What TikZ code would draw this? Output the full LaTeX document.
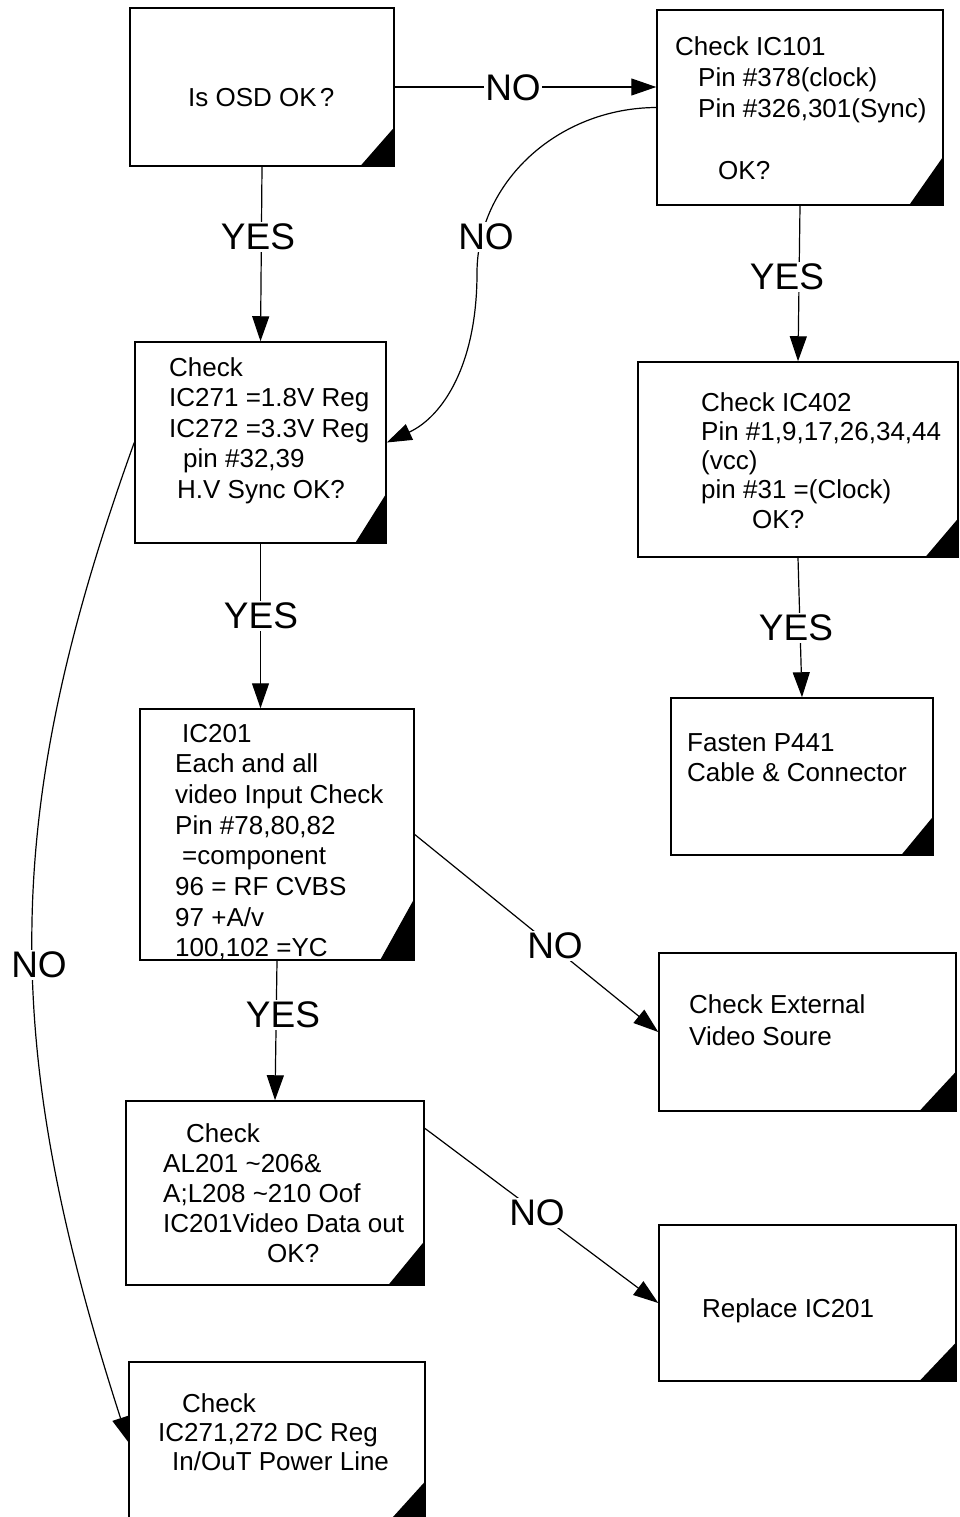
\documentclass[tikz,border=0pt]{standalone}
\usepackage{fontspec}
\setmainfont{Liberation Sans}
\usetikzlibrary{arrows.meta,calc}
\newcommand\btext[1]{\begin{tabular}[t]{@{}l@{}}#1\end{tabular}}
\begin{document}
\begin{tikzpicture}[x=1pt,y=-1pt,
  box/.style={draw,line width=1.5pt,rectangle,inner sep=0pt},
  arr/.style={line width=1.2pt,-{Triangle[length=25pt,width=17pt]}},
  lbl/.style={fill=white,inner sep=1.5pt,font=\fontsize{37}{40}\selectfont},
  txt/.style={anchor=base west,inner sep=0pt}]
\useasboundingbox (0,0) rectangle (959,1517);
\renewcommand\arraystretch{1}
% boxes
\node[box,minimum width=264pt,minimum height=158pt] (b1) at (262,87) {};
\node[box,minimum width=286pt,minimum height=195pt] (b2) at (800,107.5) {};
\node[box,minimum width=251pt,minimum height=201pt] (b3) at (260.5,442.5) {};
\node[box,minimum width=320pt,minimum height=195pt] (b4) at (798,459.5) {};
\node[box,minimum width=262pt,minimum height=157pt] (b5) at (802,776.5) {};
\node[box,minimum width=274pt,minimum height=251pt] (b6) at (277,834.5) {};
\node[box,minimum width=297pt,minimum height=158pt] (b7) at (807.5,1032) {};
\node[box,minimum width=298pt,minimum height=184pt] (b8) at (275,1193) {};
\node[box,minimum width=297pt,minimum height=156pt] (b9) at (807.5,1303) {};
\node[box,minimum width=296pt,minimum height=160pt] (b10) at (277,1442) {};
% corner triangles
\fill (b1.south east) -- ++(-35,0) -- ++(35,-40) -- cycle;
\fill (b2.south east) -- ++(-35,0) -- ++(35,-50) -- cycle;
\fill (b3.south east) -- ++(-32,0) -- ++(32,-51) -- cycle;
\fill (b4.south east) -- ++(-34,0) -- ++(34,-40) -- cycle;
\fill (b5.south east) -- ++(-33,0) -- ++(33,-40) -- cycle;
\fill (b6.south east) -- ++(-35,0) -- ++(35,-63) -- cycle;
\fill (b7.south east) -- ++(-38,0) -- ++(38,-41) -- cycle;
\fill (b8.south east) -- ++(-37,0) -- ++(37,-45) -- cycle;
\fill (b9.south east) -- ++(-38,0) -- ++(38,-40) -- cycle;
\fill (b10.south east) -- ++(-38,0) -- ++(38,-42) -- cycle;
% texts
\node[txt,font=\fontsize{26}{30}\selectfont] (t1) at (188,107) {Is OSD OK\kern3pt?};
\node[txt,font=\fontsize{26}{31}\selectfont] (t2) at (675,56) {\btext{Check IC101\\
  \hspace*{23pt}Pin \#378(clock)\\
  \hspace*{23pt}Pin \#326,301(Sync)\\[31pt]
  \hspace*{43pt}OK?}};
\node[txt,font=\fontsize{26}{30.5}\selectfont] (t3) at (169,376) {\btext{Check\\
  IC271 =1.8V Reg\\
  IC272 =3.3V Reg\\
  \hspace*{14pt}pin \#32,39\\
  \hspace*{8pt}H.V Sync OK?}};
\node[txt,font=\fontsize{26}{29.25}\selectfont] (t4) at (701,411) {\btext{Check IC402\\
  Pin \#1,9,17,26,34,44\\
  (vcc)\\
  pin \#31 =(Clock)\\
  \hspace*{51pt}OK?}};
\node[txt,font=\fontsize{26}{30}\selectfont] (t5) at (687,751) {\btext{Fasten P441\\
  Cable \& Connector}};
\node[txt,font=\fontsize{26}{30.7}\selectfont] (t6) at (175,742) {\btext{\hspace*{7pt}IC201\\
  Each and all\\
  video Input Check\\
  Pin \#78,80,82\\
  \hspace*{7pt}=component\\
  96 = RF CVBS\\
  97 +A/v\\
  100,102 =YC}};
\node[txt,font=\fontsize{26}{32}\selectfont] (t7) at (689,1013) {\btext{Check External\\
  Video Soure}};
\node[txt,font=\fontsize{26}{30}\selectfont] (t8) at (163,1142) {\btext{\hspace*{23pt}Check\\
  AL201 \textasciitilde206\&\\
  A;L208 \textasciitilde210 Oof\\
  IC201Video Data out\\
  \hspace*{104pt}OK?}};
\node[txt,font=\fontsize{26}{30}\selectfont] (t9) at (702,1317) {Replace IC201};
\node[txt,font=\fontsize{26}{29}\selectfont] (t10) at (158,1412) {\btext{\hspace*{24pt}Check\\
  IC271,272 DC Reg\\
  \hspace*{14pt}In/OuT Power Line}};
% connectors
\coordinate (m1) at (477,273);
\draw[arr] (b1.east) -- (b2.west |- b1.east);
\draw[arr] (b1.south) -- (b3.north);
\draw[arr] (b2.west) .. controls (558,108) and (477,182) .. (m1)
  .. controls (477,366) and (442,417) .. (b3.east);
\draw[arr] (b2.south) -- (b4.north);
\draw[arr] (b4.south) -- (b5.north);
\draw[arr] (b3.south) -- (b6.north -| b3.south);
\draw[arr] (b6.east) -- (b7.west);
\draw[arr] (b6.south) -- (b8.north);
\draw[arr] ($(b8.north east)+(0,28)$) -- (b9.west);
\draw[arr] (b3.west) .. controls (0,815) and (0,1045) .. (b10.west);
% labels
\node[lbl] (l1) at (513,88) {NO};
\node[lbl] (l2) at (258,237) {YES};
\node[lbl] (l3) at (486,237) {NO};
\node[lbl] (l4) at (787,277) {YES};
\node[lbl] (l5) at (796,628) {YES};
\node[lbl] (l6) at (261,616) {YES};
\node[lbl] (l7) at (283,1015) {YES};
\node[lbl] (l8) at (555,946) {NO};
\node[lbl] (l9) at (537,1213) {NO};
\node[lbl] (l10) at (39,965) {NO};
\end{tikzpicture}
\end{document}
